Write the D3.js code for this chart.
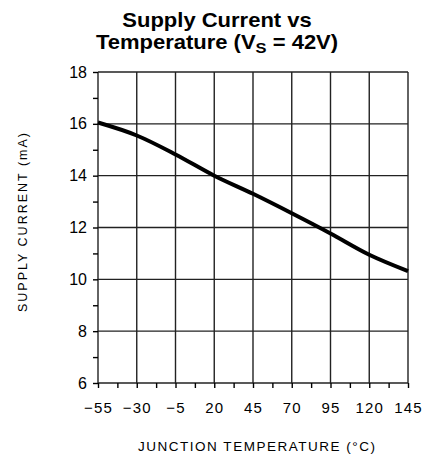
<!DOCTYPE html>
<html>
<head>
<meta charset="utf-8">
<script src="https://cdn.jsdelivr.net/npm/d3@7"></script>
<style>
  body { margin: 0; background: #fff; }
  text { font-family: "Liberation Sans", Arial, sans-serif; fill: #000; }
</style>
</head>
<body>
<script>
"use strict"

/* dati: temperatura di giunzione (°C) e corrente (mA) */
const temperature = [-55, -30, -5, 20, 45, 70, 95, 120, 145];
const corrente = [16.05, 15.55, 14.82, 14.0, 13.3, 12.55, 11.77, 10.95, 10.32];
const tickX = [-55, -30, -5, 20, 45, 70, 95, 120, 145];
const tickY = [6, 8, 10, 12, 14, 16, 18];

const grafico = { larghezza: 434, altezza: 456 };
const margine = { sinistra: 98, destra: 408, alto: 72, basso: 383 };

const svg = d3.select("body")
    .append("svg")
    .attr("width", grafico.larghezza)
    .attr("height", grafico.altezza);

const x = d3.scaleLinear().domain([-55, 145]).range([margine.sinistra, margine.destra]);
const y = d3.scaleLinear().domain([6, 18]).range([margine.basso, margine.alto]);

/* griglia */
svg.append("g").selectAll("line")
    .data(tickX)
    .enter().append("line")
    .attr("x1", d => x(d)).attr("x2", d => x(d))
    .attr("y1", margine.alto).attr("y2", margine.basso)
    .attr("stroke", "#222").attr("stroke-width", 1.4);
svg.append("g").selectAll("line")
    .data(tickY)
    .enter().append("line")
    .attr("x1", margine.sinistra).attr("x2", margine.destra)
    .attr("y1", d => y(d)).attr("y2", d => y(d))
    .attr("stroke", "#222").attr("stroke-width", 1.4);

/* asse y con tacche minori */
const assey = svg.append("g")
    .attr("transform", "translate(" + margine.sinistra + ",0)")
    .call(d3.axisLeft(y).tickValues(d3.range(6, 18.01, 1)).tickSize(5).tickPadding(6)
        .tickFormat(d => tickY.includes(d) ? d : ""));
assey.select(".domain").remove();
assey.selectAll("line").attr("stroke", "#000").attr("stroke-width", 1.4);
assey.selectAll("text").style("font-size", "16px").style("font-family", "Liberation Sans, Arial, sans-serif");

/* asse x con tacche minori */
const assex = svg.append("g")
    .attr("transform", "translate(0," + margine.basso + ")")
    .call(d3.axisBottom(x).tickValues(d3.range(-55, 145.01, 12.5)).tickSize(5).tickPadding(14)
        .tickFormat(d => tickX.includes(d) ? (d < 0 ? "\u2212" + (-d) : d) : ""));
assex.select(".domain").remove();
assex.selectAll("line").attr("stroke", "#000").attr("stroke-width", 1.4);
assex.selectAll("text").style("font-size", "15px").style("font-family", "Liberation Sans, Arial, sans-serif")
    .attr("letter-spacing", "1.2px");

/* curva */
const linea = d3.line()
    .x((d, i) => x(temperature[i]))
    .y(d => y(d))
    .curve(d3.curveMonotoneX);
svg.append("path")
    .datum(corrente)
    .attr("d", linea)
    .attr("fill", "none")
    .attr("stroke", "#000")
    .attr("stroke-width", 4);

/* titolo (allargato orizzontalmente come nell'originale) */
const gTitolo = svg.append("g")
    .attr("transform", "translate(217,0) scale(1.1,1)");
gTitolo.append("text")
    .attr("x", 0).attr("y", 27)
    .attr("text-anchor", "middle")
    .style("font-size", "20px").style("font-weight", "bold")
    .text("Supply Current vs");
const titolo2 = gTitolo.append("text")
    .attr("x", 0).attr("y", 49)
    .attr("text-anchor", "middle")
    .style("font-size", "20px").style("font-weight", "bold");
titolo2.append("tspan").text("Temperature (V");
titolo2.append("tspan").attr("dy", 4).style("font-size", "15px").text("S");
titolo2.append("tspan").attr("dy", -4).text(" = 42V)");

/* etichette degli assi */
svg.append("text")
    .attr("x", 138).attr("y", 451)
    .attr("textLength", 237)
    .attr("lengthAdjust", "spacing")
    .style("font-size", "13.5px")
    .text("JUNCTION TEMPERATURE (\u00B0C)");
svg.append("text")
    .attr("transform", "translate(27,312) rotate(-90)")
    .attr("textLength", 179)
    .attr("lengthAdjust", "spacing")
    .style("font-size", "12.5px")
    .text("SUPPLY CURRENT (mA)");
</script>
</body>
</html>
